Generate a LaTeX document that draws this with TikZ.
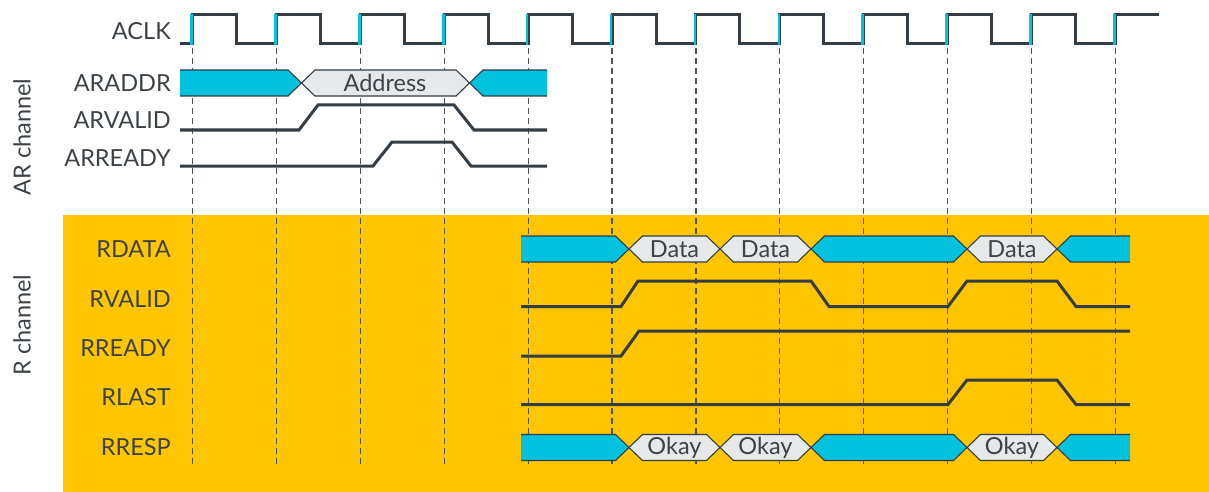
\documentclass[tikz,border=0pt]{standalone}
\usepackage{fontspec}
\setmainfont{Lato}
\definecolor{ylw}{RGB}{255,198,0}
\definecolor{cyn}{RGB}{0,193,222}
\definecolor{gfill}{RGB}{229,233,233}
\definecolor{drk}{RGB}{52,60,68}
\definecolor{txt}{RGB}{60,66,72}
\definecolor{dsh}{RGB}{80,86,92}
\tikzset{
  sig/.style={draw=drk, line width=3pt, line join=miter},
  busline/.style={draw=drk, line width=1.1pt, line join=miter},
  dashline/.style={draw=dsh, line width=1.2pt, dash pattern=on 6pt off 4pt},
  cedge/.style={draw=cyn, line width=2.6pt},
  lbl/.style={anchor=east, text=txt, font=\fontsize{23.5}{26}\selectfont, inner sep=0pt},
  inlbl/.style={text=txt, font=\fontsize{23.5}{26}\selectfont, inner sep=0pt},
  chlbl/.style={text=txt, font=\fontsize{23.5}{26}\selectfont, inner sep=0pt, rotate=90}
}
% cyan start block: x0, crossing c, top, bottom
\newcommand{\mybusL}[4]{%
  \fill[cyn] (#1,#3) -- ({#2-13.5},#3) -- (#2,{(#3+#4)/2}) -- ({#2-13.5},#4) -- (#1,#4) -- cycle;
  \draw[busline] (#1,#3) -- ({#2-13.5},#3) -- (#2,{(#3+#4)/2}) -- ({#2-13.5},#4) -- (#1,#4);}
% hex between c1 and c2 with fill colour #5
\newcommand{\mybusH}[5]{%
  \filldraw[busline, fill=#5] (#1,{(#3+#4)/2}) -- ({#1+13.5},#3) -- ({#2-13.5},#3) -- (#2,{(#3+#4)/2}) -- ({#2-13.5},#4) -- ({#1+13.5},#4) -- cycle;}
% cyan end block: crossing c, x1
\newcommand{\mybusR}[4]{%
  \fill[cyn] (#1,{(#3+#4)/2}) -- ({#1+13.5},#3) -- (#2,#3) -- (#2,#4) -- ({#1+13.5},#4) -- cycle;
  \draw[busline] (#2,#3) -- ({#1+13.5},#3) -- (#1,{(#3+#4)/2}) -- ({#1+13.5},#4) -- (#2,#4);}
\begin{document}
\begin{tikzpicture}[x=1pt,y=-1pt]
\useasboundingbox (0,0) rectangle (1209,492);
\fill[ylw] (63,215) rectangle (1209,492);

% dashed clock-edge guides
\foreach \k in {0,...,11}
  \draw[dashline] ({192.5+83.9*\k},48) -- ({192.5+83.9*\k},465);

% clock
\draw[sig] (180,44) foreach \k in {0,...,10} {
   -- ({192.5+83.9*\k},44) -- ({192.5+83.9*\k},15) -- ({236.5+83.9*\k},15) -- ({236.5+83.9*\k},44) }
   -- (1115.4,44) -- (1115.4,15) -- (1159,15);
\foreach \k in {0,...,11}
  \draw[cedge] ({191.5+83.9*\k},14) -- ({191.5+83.9*\k},45);

% labels
\node[lbl] (laclk) at (171,31) {ACLK};
\node[lbl] (laraddr) at (171,83) {ARADDR};
\node[lbl] (larvalid) at (171,120) {ARVALID};
\node[lbl] (larready) at (171,158) {ARREADY};
\node[lbl] (lrdata) at (171,249) {RDATA};
\node[lbl] (lrvalid) at (171,299) {RVALID};
\node[lbl] (lrready) at (171,348) {RREADY};
\node[lbl] (lrlast) at (171,397) {RLAST};
\node[lbl] (lrresp) at (171,447) {RRESP};
\node[chlbl] (lar) at (22,137) {AR channel};
\node[chlbl] (lr) at (22,325) {R channel};

% ARADDR
\mybusL{180}{301.5}{70}{96}
\mybusH{301.5}{469.5}{70}{96}{gfill}
\mybusR{469.5}{547}{70}{96}
\node[inlbl] (taddr) at (385,83) {Address};

% ARVALID / ARREADY
\draw[sig] (180,130) -- (299,130) -- (318,105) -- (454,105) -- (474,130) -- (547,130);
\draw[sig] (180,166) -- (373,166) -- (392,142) -- (452,142) -- (471,166) -- (547,166);

% RDATA
\mybusL{521}{629}{236}{262}
\mybusH{629}{720}{236}{262}{gfill}
\mybusH{720}{811}{236}{262}{gfill}
\mybusH{811}{967}{236}{262}{cyn}
\mybusH{967}{1057}{236}{262}{gfill}
\mybusR{1057}{1130}{236}{262}
\node[inlbl] (td1) at (674.5,249) {Data};
\node[inlbl] (td2) at (765.5,249) {Data};
\node[inlbl] (td3) at (1012,249) {Data};

% RVALID / RREADY / RLAST
\draw[sig] (521,306.5) -- (621,306.5) -- (638,281) -- (811,281) -- (829,306.5) -- (948,306.5) -- (967,281) -- (1057,281) -- (1076,306.5) -- (1130,306.5);
\draw[sig] (521,356) -- (621,356) -- (639,331) -- (1130,331);
\draw[sig] (521,404.5) -- (948,404.5) -- (967,380) -- (1057,380) -- (1076,404.5) -- (1130,404.5);

% RRESP
\mybusL{521}{629}{434.5}{460.5}
\mybusH{629}{720}{434.5}{460.5}{gfill}
\mybusH{720}{811}{434.5}{460.5}{gfill}
\mybusH{811}{967}{434.5}{460.5}{cyn}
\mybusH{967}{1057}{434.5}{460.5}{gfill}
\mybusR{1057}{1130}{434.5}{460.5}
\node[inlbl] (to1) at (674.5,447.5) {Okay};
\node[inlbl] (to2) at (765.5,447.5) {Okay};
\node[inlbl] (to3) at (1012,447.5) {Okay};
\end{tikzpicture}
\end{document}
